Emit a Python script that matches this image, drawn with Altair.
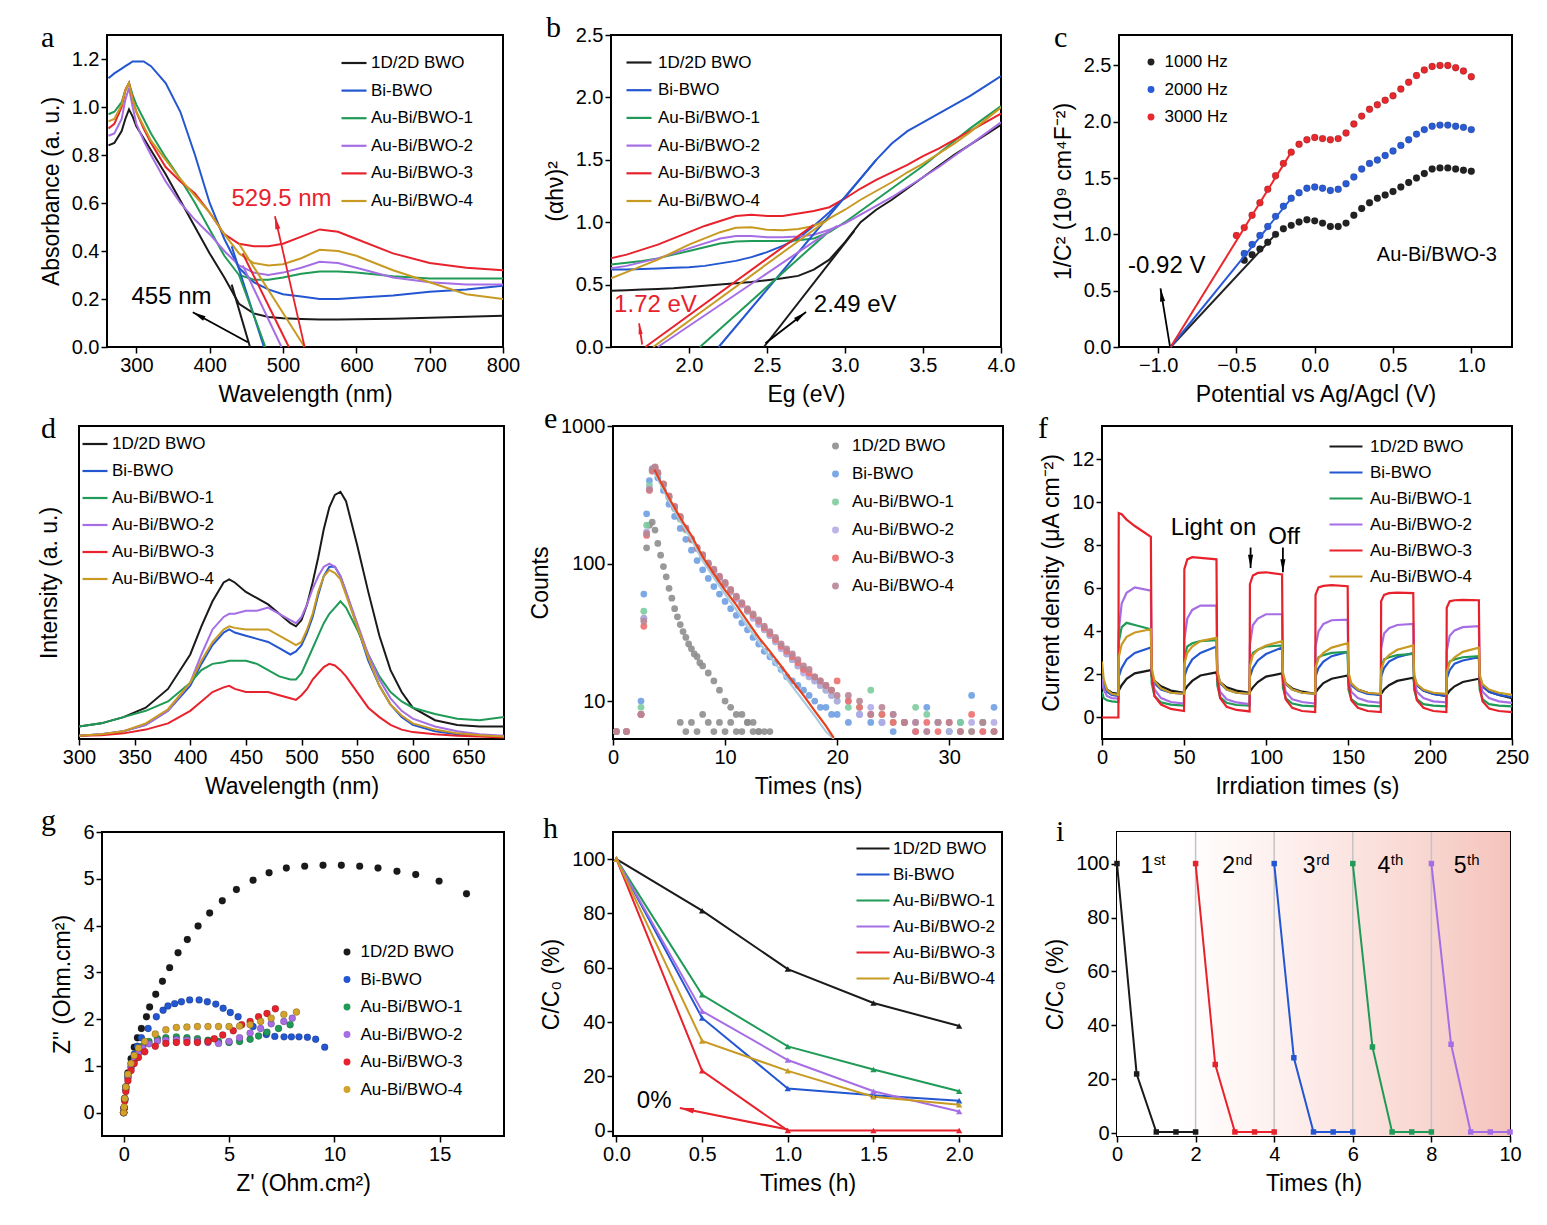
import math
import altair as alt
import pandas as pd

FONT = "Liberation Sans"
SERIF = "Liberation Serif"

NAMES = ["1D/2D BWO", "Bi-BWO", "Au-Bi/BWO-1", "Au-Bi/BWO-2", "Au-Bi/BWO-3", "Au-Bi/BWO-4"]
COLORS = ["#1a1a1a", "#2356d1", "#1f9a57", "#a66ee4", "#e8222c", "#c89a22"]
E_COLORS = ["#8e8e8e", "#6f9fe3", "#7dcc9e", "#b3ace6", "#ee6f6f", "#b88593"]
G_COLORS = ["#1a1a1a", "#2356d1", "#1f9a57", "#a66ee4", "#e8222c", "#d2a22a"]
HZ_NAMES = ["1000 Hz", "2000 Hz", "3000 Hz"]
HZ_COLORS = ["#222222", "#2a5bd7", "#e8282c"]
CYCLES = ["1", "2", "3", "4", "5"]
CYCLE_COLORS = ["#1a1a1a", "#e8222c", "#2356d1", "#1f9a57", "#a66ee4"]

# ---------------- panel a : UV-vis ----------------
A_WL = [262, 270, 280, 285, 290, 295, 300, 310, 320, 340, 360, 380, 400, 420, 440, 460, 480, 500, 525, 550, 575, 600, 650, 700, 750, 800]
A_BWO = [0.84, 0.85, 0.90, 0.95, 0.99, 0.96, 0.92, 0.87, 0.82, 0.72, 0.61, 0.50, 0.39, 0.29, 0.18, 0.14, 0.125, 0.12, 0.117, 0.115, 0.115, 0.116, 0.118, 0.122, 0.126, 0.13]
A_BI = [1.12, 1.14, 1.16, 1.17, 1.18, 1.19, 1.19, 1.19, 1.17, 1.10, 0.98, 0.80, 0.60, 0.45, 0.33, 0.27, 0.24, 0.22, 0.21, 0.20, 0.20, 0.205, 0.215, 0.23, 0.24, 0.255]
A_AU1 = [0.97, 0.98, 1.02, 1.07, 1.10, 1.05, 1.01, 0.95, 0.89, 0.79, 0.70, 0.60, 0.49, 0.38, 0.30, 0.28, 0.28, 0.29, 0.305, 0.315, 0.315, 0.31, 0.295, 0.285, 0.285, 0.285]
A_AU2 = [0.88, 0.89, 0.95, 1.03, 1.08, 1.00, 0.93, 0.86, 0.80, 0.69, 0.60, 0.53, 0.47, 0.40, 0.34, 0.31, 0.30, 0.31, 0.33, 0.355, 0.35, 0.33, 0.29, 0.27, 0.26, 0.26]
A_AU3 = [0.91, 0.93, 1.00, 1.07, 1.10, 1.03, 0.98, 0.91, 0.85, 0.75, 0.69, 0.64, 0.56, 0.47, 0.43, 0.42, 0.42, 0.43, 0.46, 0.49, 0.48, 0.45, 0.39, 0.35, 0.33, 0.32]
A_AU4 = [0.94, 0.95, 1.01, 1.07, 1.10, 1.03, 0.98, 0.92, 0.86, 0.78, 0.70, 0.63, 0.56, 0.47, 0.39, 0.35, 0.34, 0.345, 0.37, 0.405, 0.40, 0.38, 0.32, 0.27, 0.22, 0.20]
A_TAN_X0 = [455, 474, 476, 498, 508, 529.5]
A_TAN_X1 = [430, 430, 440, 445, 445, 440]
A_TAN_Y1 = [0.26, 0.42, 0.30, 0.34, 0.39, 0.43]

# ---------------- panel b : Tauc ----------------
B_EG = [1.5, 1.6, 1.7, 1.8, 1.9, 2.0, 2.1, 2.2, 2.3, 2.4, 2.5, 2.6, 2.7, 2.8, 2.9, 3.0, 3.1, 3.2, 3.3, 3.4, 3.5, 3.6, 3.7, 3.8, 3.9, 4.0]
B_BWO = [0.45, 0.455, 0.46, 0.465, 0.47, 0.48, 0.49, 0.50, 0.51, 0.52, 0.535, 0.55, 0.57, 0.62, 0.70, 0.84, 1.0, 1.10, 1.18, 1.27, 1.36, 1.45, 1.54, 1.62, 1.70, 1.78]
B_BI = [0.62, 0.62, 0.625, 0.63, 0.635, 0.64, 0.65, 0.67, 0.69, 0.72, 0.76, 0.81, 0.87, 0.97, 1.08, 1.20, 1.35, 1.50, 1.63, 1.73, 1.80, 1.87, 1.94, 2.01, 2.09, 2.17]
B_AU1 = [0.66, 0.675, 0.69, 0.71, 0.74, 0.77, 0.80, 0.83, 0.845, 0.85, 0.85, 0.85, 0.855, 0.87, 0.92, 1.0, 1.09, 1.18, 1.27, 1.36, 1.45, 1.55, 1.65, 1.75, 1.84, 1.93]
B_AU2 = [0.63, 0.65, 0.68, 0.71, 0.75, 0.79, 0.83, 0.87, 0.89, 0.89, 0.88, 0.88, 0.885, 0.90, 0.94, 0.99, 1.06, 1.13, 1.20, 1.28, 1.36, 1.44, 1.53, 1.62, 1.71, 1.80]
B_AU3 = [0.71, 0.74, 0.78, 0.82, 0.87, 0.92, 0.97, 1.01, 1.05, 1.06, 1.05, 1.05, 1.07, 1.09, 1.12, 1.19, 1.27, 1.34, 1.40, 1.46, 1.53, 1.59, 1.66, 1.73, 1.80, 1.87]
B_AU4 = [0.55, 0.60, 0.65, 0.70, 0.76, 0.82, 0.87, 0.92, 0.955, 0.96, 0.94, 0.935, 0.945, 0.97, 1.03, 1.10, 1.18, 1.25, 1.32, 1.40, 1.47, 1.55, 1.63, 1.72, 1.82, 1.92]
B_TAN_X0 = [2.48, 2.19, 2.07, 1.80, 1.72, 1.77]
B_TAN_X1 = [3.06, 3.20, 2.90, 2.95, 2.80, 2.90]
B_TAN_Y1 = [0.93, 1.50, 0.93, 0.97, 0.98, 1.03]

# ---------------- panel c : Mott-Schottky ----------------
C_V = [-0.5, -0.45, -0.4, -0.35, -0.3, -0.25, -0.2, -0.15, -0.1, -0.05, 0.0, 0.05, 0.1, 0.15, 0.2, 0.25,
       0.3, 0.35, 0.4, 0.45, 0.5, 0.55, 0.6, 0.65, 0.7, 0.75, 0.8, 0.85, 0.9, 0.95, 1.0]
C_3000 = [0.99, 1.06, 1.17, 1.28, 1.40, 1.52, 1.63, 1.73, 1.80, 1.84, 1.86, 1.85, 1.84, 1.85, 1.90, 1.98,
          2.05, 2.11, 2.15, 2.19, 2.23, 2.29, 2.35, 2.41, 2.46, 2.49, 2.50, 2.50, 2.48, 2.45, 2.40]
C_2000 = [0.83, 0.91, 0.99, 1.07, 1.16, 1.25, 1.32, 1.37, 1.41, 1.42, 1.41, 1.39, 1.40, 1.45, 1.51,
          1.58, 1.63, 1.66, 1.70, 1.74, 1.79, 1.84, 1.89, 1.93, 1.96, 1.97, 1.97, 1.96, 1.95, 1.93]
C_1000 = [0.77, 0.82, 0.87, 0.93, 1.00, 1.05, 1.08, 1.11, 1.13, 1.12, 1.10, 1.07, 1.07, 1.10, 1.17,
          1.23, 1.28, 1.32, 1.35, 1.38, 1.42, 1.46, 1.50, 1.54, 1.58, 1.59, 1.59, 1.58, 1.57, 1.56]
C_FIT_X0 = [-0.92, -0.92, -0.92]
C_FIT_X1 = [-0.25, -0.15, -0.15]
C_FIT_Y1 = [1.00, 1.32, 1.73]

# ---------------- panel d : PL ----------------
D_WL = [300, 320, 340, 360, 380, 400, 410, 420, 430, 435, 440, 450, 460, 470, 480, 490, 495, 500, 505, 510, 515, 520,
        525, 530, 535, 540, 550, 560, 570, 580, 590, 600, 620, 640, 660, 682]
D_BWO = [0.04, 0.05, 0.07, 0.10, 0.16, 0.27, 0.36, 0.44, 0.50, 0.51, 0.50, 0.47, 0.45, 0.43, 0.40, 0.37, 0.36, 0.38, 0.43, 0.50, 0.58, 0.67,
         0.74, 0.78, 0.79, 0.76, 0.62, 0.47, 0.33, 0.22, 0.15, 0.10, 0.06, 0.045, 0.04, 0.04]
D_BI = [0.01, 0.015, 0.025, 0.045, 0.09, 0.17, 0.24, 0.30, 0.34, 0.35, 0.34, 0.33, 0.32, 0.31, 0.29, 0.27, 0.28, 0.30, 0.34, 0.39, 0.46, 0.52,
        0.55, 0.55, 0.52, 0.47, 0.36, 0.25, 0.17, 0.11, 0.07, 0.045, 0.025, 0.015, 0.01, 0.008]
D_AU1 = [0.04, 0.05, 0.07, 0.09, 0.12, 0.18, 0.22, 0.24, 0.245, 0.25, 0.25, 0.25, 0.24, 0.22, 0.20, 0.19, 0.19, 0.21, 0.25, 0.29, 0.33, 0.37,
         0.40, 0.42, 0.44, 0.42, 0.35, 0.27, 0.20, 0.15, 0.12, 0.10, 0.08, 0.065, 0.06, 0.07]
D_AU2 = [0.01, 0.015, 0.025, 0.045, 0.09, 0.18, 0.27, 0.35, 0.39, 0.40, 0.40, 0.41, 0.41, 0.42, 0.40, 0.38, 0.37, 0.39, 0.43, 0.48, 0.52, 0.55,
         0.56, 0.55, 0.52, 0.47, 0.37, 0.27, 0.19, 0.13, 0.09, 0.065, 0.04, 0.025, 0.015, 0.01]
D_AU3 = [0.01, 0.012, 0.018, 0.03, 0.05, 0.09, 0.12, 0.15, 0.165, 0.17, 0.16, 0.15, 0.15, 0.15, 0.14, 0.13, 0.125, 0.14, 0.16, 0.19, 0.21, 0.23,
         0.24, 0.235, 0.22, 0.20, 0.15, 0.10, 0.07, 0.045, 0.03, 0.022, 0.015, 0.01, 0.008, 0.005]
D_AU4 = [0.01, 0.015, 0.025, 0.05, 0.095, 0.18, 0.25, 0.31, 0.35, 0.36, 0.355, 0.35, 0.35, 0.35, 0.33, 0.31, 0.30, 0.31, 0.35, 0.40, 0.47, 0.52,
         0.54, 0.53, 0.51, 0.46, 0.36, 0.26, 0.17, 0.11, 0.075, 0.05, 0.03, 0.018, 0.012, 0.008]

# ---------------- panel e : TRPL ----------------
E_T0 = [2.5, 2.75, 3.0, 3.25, 3.5, 3.75, 4.0, 4.25, 4.5, 4.75, 5.0, 5.25, 5.5, 5.75, 6.0, 6.25, 6.5, 6.75, 7.0, 7.25, 7.5, 7.75,
        8.0, 8.5, 9.0, 9.5, 10.0, 10.5, 11.0, 11.5, 12.0, 12.5, 13.0, 13.5, 14.0,
        6.0, 6.5, 7.0, 7.5, 8.0, 8.5, 9.0, 9.5, 10.0, 10.5, 11.0, 11.5, 12.0, 12.5, 13.0]
E_BWO = [8, 40, 130, 190, 200, 175, 140, 115, 95, 80, 66, 56, 47, 41, 36, 32, 29, 26, 24, 22, 21, 19,
         18, 16, 14, 12, 10, 9, 8, 8, 7, 7, 6, 6, 6,
         7, 6, 7, 6, 8, 7, 6, 7, 6, 7, 6, 6, 7, 6, 6]
E_T = [0.3, 1.2, 2.5, 2.75, 3.0, 3.25, 3.5, 3.75, 4.0, 4.5, 5.0, 5.5, 6.0, 6.5, 7.0, 7.5, 8.0, 8.5, 9.0, 9.5, 10.0,
       10.5, 11.0, 11.5, 12.0, 12.5, 13.0, 13.5, 14.0, 14.5, 15.0, 15.5, 16.0, 16.5, 17.0, 17.5, 18.0, 18.5, 19.0, 19.5,
       20.0, 21.0, 22.0, 23.0, 24.0, 25.0, 26.0, 27.0, 28.0, 29.0, 30.0, 31.0, 32.0, 33.0, 34.0]
E_BI = [6, 6, 10, 60, 230, 400, 490, 480, 420, 340, 270, 220, 180, 150, 125, 105, 90, 78, 68, 60, 53,
        47, 42, 37, 33, 29, 26, 23, 21, 19, 17, 15, 14, 13, 12, 11, 10, 9, 9, 8,
        8, 7, 8, 7, 7, 6, 7, 6, 9, 7, 6, 7, 11, 7, 9]
E_AU1 = [6, 6, 9, 45, 190, 370, 480, 495, 450, 370, 300, 250, 210, 175, 148, 128, 112, 98, 88, 78, 70,
         62, 56, 50, 45, 41, 37, 33, 30, 27, 25, 22, 20, 18, 17, 15, 14, 13, 12, 11,
         10, 9, 9, 12, 8, 7, 7, 9, 8, 7, 6, 7, 6, 7, 6]
E_AU2 = [6, 6, 8, 40, 170, 350, 470, 490, 450, 375, 305, 255, 215, 178, 150, 128, 113, 99, 87, 78, 70,
         62, 55, 50, 45, 40, 36, 33, 30, 27, 24, 22, 20, 18, 16, 15, 14, 13, 12, 11,
         10, 10, 8, 9, 7, 8, 7, 7, 6, 7, 6, 6, 7, 6, 7]
E_AU3 = [6, 6, 8, 35, 160, 340, 470, 500, 460, 380, 310, 260, 220, 180, 150, 130, 115, 100, 90, 80, 72,
         64, 57, 51, 46, 42, 38, 34, 31, 28, 25, 23, 21, 19, 17, 16, 15, 14, 13, 12,
         14, 10, 9, 8, 8, 7, 7, 6, 7, 6, 7, 6, 8, 6, 6]
E_AU4 = [6, 6, 8, 38, 165, 345, 480, 505, 455, 378, 308, 258, 218, 182, 152, 131, 116, 101, 91, 81, 73,
         65, 58, 52, 47, 43, 39, 35, 32, 29, 26, 24, 22, 20, 18, 17, 15, 14, 13, 12,
         11, 11, 10, 8, 9, 8, 7, 7, 6, 7, 7, 6, 6, 7, 6]
E_FIT_T = [3.7, 4.0, 5.0, 6.0, 7.0, 8.0, 9.0, 10.0, 11.0, 12.0, 13.0, 14.0, 15.0, 16.0, 17.0, 18.0, 19.0, 19.7]
E_FIT_RED = [480, 430, 300, 215, 160, 112, 84, 64, 50, 38, 29, 23, 18, 14, 11, 8.5, 6.6, 5.4]
E_FIT_BLUE = [460, 410, 285, 205, 150, 105, 79, 60, 46, 35, 27, 21, 16.5, 12.8, 10, 7.8, 6.0, 5.3]

# ---------------- panel f : photocurrent ----------------
F_T = [0, 1, 3, 6,
       10, 10.2, 12, 15, 20, 29.8, 30.3, 32, 36, 42,
       50, 50.2, 52, 55, 60, 69.8, 70.3, 72, 76, 82,
       90, 90.2, 92, 95, 100, 109.8, 110.3, 112, 116, 122,
       130, 130.2, 132, 135, 140, 149.8, 150.3, 152, 156, 162,
       170, 170.2, 172, 175, 180, 189.8, 190.3, 192, 196, 202,
       210, 210.2, 212, 215, 220, 229.8, 230.3, 232, 236, 242, 250]
F_BWO = [2.0, 1.6, 1.3, 1.15,
         1.1, 1.25, 1.5, 1.8, 2.05, 2.2, 1.9, 1.7, 1.45, 1.25,
         1.15, 1.25, 1.45, 1.7, 1.95, 2.1, 1.85, 1.65, 1.4, 1.25,
         1.15, 1.2, 1.4, 1.65, 1.9, 2.05, 1.8, 1.6, 1.35, 1.2,
         1.1, 1.15, 1.35, 1.6, 1.8, 1.95, 1.7, 1.55, 1.3, 1.15,
         1.05, 1.1, 1.3, 1.5, 1.7, 1.85, 1.65, 1.5, 1.25, 1.1,
         1.0, 1.05, 1.25, 1.45, 1.65, 1.8, 1.6, 1.45, 1.2, 1.05, 0.9]
F_BI = [2.0, 1.5, 1.2, 1.05,
        1.0, 1.9, 2.3, 2.7, 3.0, 3.25, 2.1, 1.6, 1.3, 1.15,
        1.1, 1.9, 2.3, 2.7, 3.0, 3.3, 2.1, 1.6, 1.3, 1.15,
        1.1, 1.9, 2.3, 2.65, 2.95, 3.25, 2.0, 1.55, 1.3, 1.15,
        1.1, 1.9, 2.3, 2.6, 2.85, 3.05, 1.95, 1.5, 1.25, 1.1,
        1.05, 1.9, 2.3, 2.6, 2.8, 3.0, 1.9, 1.5, 1.25, 1.1,
        1.0, 1.8, 2.2, 2.5, 2.65, 2.8, 1.9, 1.45, 1.2, 1.05, 0.95]
F_AU1 = [1.2, 0.9, 0.8, 0.75,
         0.72, 3.5, 4.2, 4.4, 4.3, 4.1, 1.6, 1.0, 0.7, 0.6,
         0.55, 2.8, 3.3, 3.45, 3.55, 3.6, 1.5, 0.95, 0.68, 0.58,
         0.55, 2.6, 3.0, 3.15, 3.3, 3.35, 1.4, 0.9, 0.65, 0.55,
         0.52, 2.4, 2.8, 2.9, 3.0, 3.05, 1.3, 0.85, 0.62, 0.55,
         0.52, 2.3, 2.7, 2.8, 2.9, 2.95, 1.3, 0.85, 0.62, 0.55,
         0.52, 2.2, 2.6, 2.7, 2.8, 2.85, 1.3, 0.85, 0.62, 0.55, 0.52]
F_AU2 = [1.8, 1.3, 1.0, 0.9,
         0.88, 4.0, 5.3, 5.8, 6.05, 5.9, 2.0, 1.3, 0.9, 0.72,
         0.65, 3.6, 4.6, 5.0, 5.2, 5.2, 1.9, 1.2, 0.85, 0.7,
         0.62, 3.4, 4.3, 4.6, 4.8, 4.8, 1.8, 1.2, 0.85, 0.72,
         0.65, 3.3, 4.0, 4.35, 4.52, 4.55, 1.8, 1.2, 0.9, 0.75,
         0.68, 3.2, 3.9, 4.15, 4.3, 4.35, 1.8, 1.2, 0.9, 0.75,
         0.7, 3.1, 3.8, 4.05, 4.2, 4.25, 1.8, 1.2, 0.9, 0.75, 0.68]
F_AU3 = [0, 0, 0, 0,
         0, 9.5, 9.45, 9.2, 8.9, 8.4, 2.0, 1.0, 0.6, 0.4,
         0.3, 6.9, 7.35, 7.45, 7.42, 7.35, 1.8, 0.9, 0.5, 0.35,
         0.28, 6.2, 6.6, 6.72, 6.75, 6.65, 1.7, 0.85, 0.45, 0.3,
         0.25, 5.7, 6.05, 6.12, 6.15, 6.1, 1.6, 0.8, 0.45, 0.3,
         0.25, 5.4, 5.7, 5.78, 5.8, 5.78, 1.5, 0.8, 0.45, 0.3,
         0.25, 5.1, 5.4, 5.45, 5.47, 5.45, 1.5, 0.75, 0.42, 0.3, 0.25]
F_AU4 = [2.6, 1.8, 1.3, 1.1,
         1.05, 2.8, 3.4, 3.75, 3.95, 4.1, 2.3, 1.7, 1.35, 1.15,
         1.1, 2.5, 3.0, 3.3, 3.55, 3.7, 2.2, 1.65, 1.3, 1.15,
         1.1, 2.4, 2.9, 3.15, 3.35, 3.55, 2.1, 1.6, 1.3, 1.15,
         1.1, 2.3, 2.75, 3.0, 3.25, 3.45, 2.1, 1.6, 1.3, 1.15,
         1.1, 2.2, 2.65, 2.9, 3.15, 3.35, 2.0, 1.55, 1.3, 1.15,
         1.1, 2.1, 2.55, 2.8, 3.05, 3.25, 2.0, 1.55, 1.3, 1.15, 1.05]

# ---------------- panel g : Nyquist ----------------
G_BWO_X = [0.0, 0.02, 0.05, 0.1, 0.2, 0.35, 0.5, 0.65, 0.84, 1.08, 1.23, 1.52, 1.84, 2.18, 2.58, 3.02, 3.53, 4.08,
           4.68, 5.35, 6.14, 6.9, 7.72, 8.59, 9.46, 10.33, 11.2, 12.07, 12.97, 13.86, 14.97, 16.27]
G_BWO_Y = [0.0, 0.1, 0.3, 0.55, 0.85, 1.15, 1.4, 1.6, 1.8, 2.05, 2.26, 2.53, 2.81, 3.10, 3.42, 3.70, 3.99, 4.27,
           4.53, 4.77, 4.97, 5.13, 5.23, 5.27, 5.29, 5.29, 5.27, 5.23, 5.16, 5.09, 4.95, 4.68]
G_BI_X = [0.0, 0.02, 0.05, 0.1, 0.2, 0.35, 0.5, 0.65, 0.84, 1.16, 1.55, 1.87, 2.1, 2.42, 2.74, 3.13, 3.58, 3.97,
          4.37, 4.72, 5.06, 5.43, 6.14, 6.77, 7.17, 7.61, 7.96, 8.32, 8.72, 9.11, 9.54]
G_BI_Y = [0.0, 0.1, 0.3, 0.55, 0.8, 1.05, 1.25, 1.42, 1.6, 1.8, 2.05, 2.19, 2.28, 2.33, 2.37, 2.41, 2.41, 2.37,
          2.32, 2.23, 2.14, 2.05, 1.84, 1.67, 1.63, 1.62, 1.62, 1.62, 1.61, 1.57, 1.40]
G_AU1_X = [0.0, 0.02, 0.05, 0.1, 0.2, 0.35, 0.5, 0.7, 0.9, 1.2, 1.6, 2.0, 2.5, 3.0, 3.5, 4.0, 4.5, 5.0, 5.5, 6.0, 6.4, 6.8, 7.35, 7.9]
G_AU1_Y = [0.0, 0.1, 0.28, 0.5, 0.75, 0.98, 1.15, 1.3, 1.42, 1.52, 1.58, 1.6, 1.62, 1.6, 1.58, 1.55, 1.52, 1.5, 1.52, 1.57, 1.64, 1.72, 1.8, 1.88]
G_AU2_X = [0.0, 0.02, 0.05, 0.1, 0.2, 0.35, 0.5, 0.7, 0.9, 1.2, 1.6, 2.0, 2.5, 3.0, 3.5, 4.0, 4.5, 5.0, 5.5, 6.0, 6.5, 7.0, 7.6, 8.0]
G_AU2_Y = [0.0, 0.1, 0.28, 0.5, 0.75, 0.97, 1.12, 1.27, 1.38, 1.47, 1.53, 1.55, 1.56, 1.55, 1.53, 1.5, 1.48, 1.52, 1.6, 1.7, 1.8, 1.9, 1.95, 2.02]
G_AU3_X = [0.0, 0.02, 0.05, 0.1, 0.2, 0.35, 0.5, 0.7, 1.0, 1.5, 2.0, 2.5, 3.0, 3.5, 4.0, 4.3, 4.7, 5.2, 5.6, 6.0, 6.4, 6.8, 7.2]
G_AU3_Y = [0.0, 0.1, 0.25, 0.45, 0.68, 0.9, 1.05, 1.18, 1.3, 1.42, 1.48, 1.5, 1.5, 1.5, 1.52, 1.58, 1.66, 1.75, 1.88, 1.95, 2.05, 2.12, 2.22]
G_AU4_X = [0.0, 0.02, 0.05, 0.1, 0.2, 0.35, 0.5, 0.7, 1.0, 1.5, 2.0, 2.5, 3.0, 3.5, 4.0, 4.5, 5.0, 5.5, 6.0, 6.5, 7.0, 7.6, 8.2]
G_AU4_Y = [0.0, 0.12, 0.3, 0.55, 0.82, 1.05, 1.22, 1.38, 1.52, 1.68, 1.77, 1.82, 1.83, 1.84, 1.84, 1.84, 1.84, 1.85, 1.88, 1.95, 2.02, 2.1, 2.15]

# ---------------- panel h : degradation ----------------
H_T = [0.0, 0.5, 1.0, 1.5, 2.0]
H_BWO = [100, 81, 59.5, 47, 38.5]
H_BI = [100, 41.5, 15.5, 13, 11]
H_AU1 = [100, 50, 31, 22.5, 14.5]
H_AU2 = [100, 44, 26, 14.5, 7]
H_AU3 = [100, 22, 0, 0, 0]
H_AU4 = [100, 33, 22, 12.5, 9.5]

# ---------------- panel i : cycling ----------------
I_T1 = [0, 0.5, 1, 1.5, 2]
I_T2 = [2, 2.5, 3, 3.5, 4]
I_T3 = [4, 4.5, 5, 5.5, 6]
I_T4 = [6, 6.5, 7, 7.5, 8]
I_T5 = [8, 8.5, 9, 9.5, 10]
I_C1 = [100, 22, 0.5, 0.5, 0.5]
I_C2 = [100, 25.5, 0.5, 0.5, 0.5]
I_C3 = [100, 28, 0.5, 0.5, 0.5]
I_C4 = [100, 32, 0.5, 0.5, 0.5]
I_C5 = [100, 33, 0.5, 0.5, 0.5]
I_SEP = [2, 4, 6, 8]
I_LBL = ["1", "2", "3", "4", "5"]
I_SUP = ["st", "nd", "rd", "th", "th"]
I_LBL_X = [0.76, 2.84, 4.89, 6.79, 8.73]


# ======================= helpers =======================
def sc(dom, typ=None):
    if typ:
        return alt.Scale(type=typ, domain=dom, nice=False)
    return alt.Scale(domain=dom, nice=False, zero=False)


def long_common(xs, ys_list, names):
    rows = []
    for n, ys in zip(names, ys_list):
        assert len(ys) == len(xs), (n, len(ys), len(xs))
        for i, (x, y) in enumerate(zip(xs, ys)):
            rows.append({"s": n, "x": x, "y": y, "o": i})
    return pd.DataFrame(rows)


def long_pairs(xs_list, ys_list, names):
    rows = []
    for n, xs, ys in zip(names, xs_list, ys_list):
        assert len(xs) == len(ys), (n, len(xs), len(ys))
        for i, (x, y) in enumerate(zip(xs, ys)):
            rows.append({"s": n, "x": x, "y": y, "o": i})
    return pd.DataFrame(rows)


def make_axis(title, values=None, fmt=None, **kw):
    d = dict(title=title)
    if values is not None:
        d["values"] = values
    if fmt:
        d["format"] = fmt
    d.update(kw)
    return alt.Axis(**d)


class P:
    def __init__(self, xdom, ydom, w, h, xaxis, yaxis, ylog=False):
        self.xdom, self.ydom, self.w, self.h, self.ylog = xdom, ydom, w, h, ylog
        self.xs = sc(xdom)
        self.ys = sc(ydom, "log") if ylog else sc(ydom)
        self.xa, self.ya = xaxis, yaxis

    def X(self, f):
        return alt.X(f, scale=self.xs, axis=self.xa)

    def Y(self, f):
        return alt.Y(f, scale=self.ys, axis=self.ya)

    def fy(self, v):
        return math.log10(v) if self.ylog else v


HEAD = "M0,0L0.45,2.3L-0.45,2.3Z"


def arrow(p, x0, y0, x1, y1, color, sw=1.8, size=130):
    dxp = (x1 - x0) / (p.xdom[1] - p.xdom[0]) * p.w
    dyp = -(p.fy(y1) - p.fy(y0)) / (p.fy(p.ydom[1]) - p.fy(p.ydom[0])) * p.h
    ang = math.degrees(math.atan2(dxp, -dyp)) % 360
    df = pd.DataFrame({"x": [x0], "y": [y0], "x1": [x1], "y1": [y1]})
    rule = alt.Chart(df).mark_rule(color=color, strokeWidth=sw).encode(
        x=p.X("x:Q"), y=p.Y("y:Q"), x2="x1:Q", y2="y1:Q")
    head = alt.Chart(df).mark_point(shape=HEAD, filled=True, color=color, size=size, angle=ang, opacity=1).encode(
        x=p.X("x1:Q"), y=p.Y("y1:Q"))
    return [rule, head]


def label(p, x, y, text, color="black", size=24, align="center", baseline="middle"):
    df = pd.DataFrame({"x": [x], "y": [y], "t": [text]})
    return alt.Chart(df).mark_text(color=color, fontSize=size, align=align, baseline=baseline, font=FONT).encode(
        x=p.X("x:Q"), y=p.Y("y:Q"), text="t:N")


def color_enc(names, colors, legend):
    return alt.Color("s:N", scale=alt.Scale(domain=names, range=colors), legend=legend, sort=names)


def line_legend(lx, ly, size, rowpad, offset=5):
    return alt.Legend(title=None, orient="none", legendX=lx, legendY=ly, symbolType="stroke",
                      symbolSize=size, symbolStrokeWidth=2.2, rowPadding=rowpad, padding=0,
                      labelFontSize=17, labelOffset=offset, labelFont=FONT)


def dot_legend(lx, ly, size, rowpad, offset=8):
    return alt.Legend(title=None, orient="none", legendX=lx, legendY=ly, symbolType="circle",
                      symbolSize=size, rowPadding=rowpad, padding=0, symbolStrokeWidth=0,
                      labelFontSize=17, labelOffset=offset, labelFont=FONT)


def finish(layers, p, letter, dx, dy=12):
    return alt.layer(*layers).properties(
        width=p.w, height=p.h,
        title=alt.TitleParams(text=letter, anchor="start", frame="group", dx=dx, dy=dy + 30, offset=0,
                              font=SERIF, fontSize=30, fontWeight="normal", baseline="alphabetic", color="black"),
        view=alt.ViewBackground(stroke="black", strokeWidth=2))


# ======================= panel a =======================
pa = P([260, 800], [0, 1.3], 396, 312,
       make_axis("Wavelength (nm)", [300, 400, 500, 600, 700, 800], "d"),
       make_axis("Absorbance (a. u.)", [0, 0.2, 0.4, 0.6, 0.8, 1.0, 1.2], ".1f"))
dfa = long_common(A_WL, [A_BWO, A_BI, A_AU1, A_AU2, A_AU3, A_AU4], NAMES)
leg_a = line_legend(233, 14, 625, 5.6, 3)
a_lines = alt.Chart(dfa).mark_line(strokeWidth=2, clip=True).encode(
    x=pa.X("x:Q"), y=pa.Y("y:Q"), color=color_enc(NAMES, COLORS, leg_a), order="o:Q")
dfa_t = pd.DataFrame({"s": NAMES, "x": A_TAN_X0, "y": [0] * 6, "x1": A_TAN_X1, "y1": A_TAN_Y1})
a_tan = alt.Chart(dfa_t).mark_rule(strokeWidth=2).encode(
    x=pa.X("x:Q"), y=pa.Y("y:Q"), x2="x1:Q", y2="y1:Q", color=color_enc(NAMES, COLORS, leg_a))
a_layers = [a_lines, a_tan] + arrow(pa, 452, 0.02, 377, 0.145, "black") + arrow(pa, 529.5, 0.0, 489, 0.545, "#e8222c") + [
    label(pa, 348, 0.21, "455 nm"), label(pa, 498, 0.615, "529.5 nm", color="#e8222c")]
chart_a = finish(a_layers, pa, "a", -66)

# ======================= panel b =======================
pb = P([1.5, 4.0], [0, 2.5], 390, 312,
       make_axis("Eg (eV)", [2.0, 2.5, 3.0, 3.5, 4.0], ".1f"),
       make_axis("(αhν)²", [0, 0.5, 1.0, 1.5, 2.0, 2.5], ".1f"))
dfb = long_common(B_EG, [B_BWO, B_BI, B_AU1, B_AU2, B_AU3, B_AU4], NAMES)
leg_b = line_legend(14, 13.5, 625, 5.7, 5)
b_lines = alt.Chart(dfb).mark_line(strokeWidth=2, clip=True).encode(
    x=pb.X("x:Q"), y=pb.Y("y:Q"), color=color_enc(NAMES, COLORS, leg_b), order="o:Q")
dfb_t = pd.DataFrame({"s": NAMES, "x": B_TAN_X0, "y": [0] * 6, "x1": B_TAN_X1, "y1": B_TAN_Y1})
b_tan = alt.Chart(dfb_t).mark_rule(strokeWidth=2).encode(
    x=pb.X("x:Q"), y=pb.Y("y:Q"), x2="x1:Q", y2="y1:Q", color=color_enc(NAMES, COLORS, leg_b))
b_layers = [b_lines, b_tan] + arrow(pb, 1.70, 0.02, 1.68, 0.19, "#e8222c", size=90) + arrow(pb, 2.49, 0.03, 2.75, 0.28, "black") + [
    label(pb, 1.52, 0.335, "1.72 eV", color="#e8222c", align="left"), label(pb, 2.8, 0.335, "2.49 eV", align="left")]
chart_b = finish(b_layers, pb, "b", -65)

# ======================= panel c =======================
pc = P([-1.25, 1.26], [0, 2.77], 393, 312,
       make_axis("Potential vs Ag/Agcl (V)", [-1.0, -0.5, 0.0, 0.5, 1.0], ".1f"),
       make_axis("1/C² (10⁹ cm⁴F⁻²)", [0, 0.5, 1.0, 1.5, 2.0, 2.5], ".1f"))
dfc = long_pairs([C_V[1:], C_V[1:], C_V], [C_1000, C_2000, C_3000], HZ_NAMES)
leg_c = dot_legend(23.5, 18.5, 48, 9.5, 5)
c_pts = alt.Chart(dfc).mark_circle(size=48, opacity=1, stroke="#00000055", strokeWidth=0.6).encode(
    x=pc.X("x:Q"), y=pc.Y("y:Q"), color=color_enc(HZ_NAMES, HZ_COLORS, leg_c))
dfc_f = pd.DataFrame({"s": HZ_NAMES, "x": C_FIT_X0, "y": [0] * 3, "x1": C_FIT_X1, "y1": C_FIT_Y1})
c_fit = alt.Chart(dfc_f).mark_rule(strokeWidth=2).encode(
    x=pc.X("x:Q"), y=pc.Y("y:Q"), x2="x1:Q", y2="y1:Q", color=color_enc(HZ_NAMES, HZ_COLORS, leg_c))
c_layers = [c_pts, c_fit] + arrow(pc, -0.925, 0.01, -0.985, 0.52, "black") + [
    label(pc, -0.945, 0.72, "-0.92 V"), label(pc, 0.78, 0.82, "Au-Bi/BWO-3", size=20)]
chart_c = finish(c_layers, pc, "c", -65)

# ======================= panel d =======================
pd_ = P([300, 682], [0, 1.0], 425, 313,
        make_axis("Wavelength (nm)", [300, 350, 400, 450, 500, 550, 600, 650], "d"),
        make_axis("Intensity (a. u.)", labels=False, ticks=False, titlePadding=18))
dfd = long_common(D_WL, [D_BWO, D_BI, D_AU1, D_AU2, D_AU3, D_AU4], NAMES)
d_lines = alt.Chart(dfd).mark_line(strokeWidth=2, clip=True).encode(
    x=pd_.X("x:Q"), y=pd_.Y("y:Q"), color=color_enc(NAMES, COLORS, line_legend(2, 4, 625, 5, 3)), order="o:Q")
chart_d = finish([d_lines], pd_, "d", -38)

# ======================= panel e =======================
pe = P([0, 34.8], [5.3, 1000], 390, 313,
       make_axis("Times (ns)", [0, 10, 20, 30], "d"),
       make_axis("Counts", [10, 100, 1000], "d"), ylog=True)
rows = []
for i, (t, v) in enumerate(zip(E_T0, E_BWO)):
    rows.append({"s": NAMES[0], "x": t, "y": v, "o": i})
for n, vals in zip(NAMES[1:], [E_BI, E_AU1, E_AU2, E_AU3, E_AU4]):
    assert len(vals) == len(E_T), (n, len(vals))
    for i, (t, v) in enumerate(zip(E_T, vals)):
        rows.append({"s": n, "x": t, "y": v, "o": i})
dfe = pd.DataFrame(rows)
e_pts = alt.Chart(dfe).mark_circle(size=46, opacity=0.9, clip=True).encode(
    x=pe.X("x:Q"), y=pe.Y("y:Q"), color=color_enc(NAMES, E_COLORS, dot_legend(214, 11.5, 48, 10, 8)))
dfe_f = long_common(E_FIT_T, [E_FIT_BLUE, E_FIT_RED], ["fb", "fr"])
e_fit = alt.Chart(dfe_f).mark_line(strokeWidth=2.2, clip=True).encode(
    x=pe.X("x:Q"), y=pe.Y("y:Q"), detail="s:N", order="o:Q",
    stroke=alt.Stroke("s:N", scale=alt.Scale(domain=["fb", "fr"], range=["#a9cbe0", "#e8401a"]), legend=None))
chart_e = finish([e_pts, e_fit], pe, "e", -69)

# ======================= panel f =======================
pf = P([0, 250], [-1, 13.55], 410, 313,
       make_axis("Irrdiation times (s)", [0, 50, 100, 150, 200, 250], "d"),
       make_axis("Current density (μA cm⁻²)", [0, 2, 4, 6, 8, 10, 12], "d"))
dff = long_common(F_T, [F_BWO, F_BI, F_AU1, F_AU2, F_AU3, F_AU4], NAMES)
f_lines = alt.Chart(dff).mark_line(strokeWidth=2.2, clip=True).encode(
    x=pf.X("x:Q"), y=pf.Y("y:Q"), color=color_enc(NAMES, COLORS, line_legend(226, 2.5, 1089, 0, 6)), order="o:Q")
f_layers = [f_lines] + arrow(pf, 90.6, 7.9, 90.6, 6.95, "black") + arrow(pf, 110.3, 7.9, 110.3, 6.75, "black") + [
    label(pf, 68, 8.8, "Light on"), label(pf, 111, 8.4, "Off")]
chart_f = finish(f_layers, pf, "f", -64)

# ======================= panel g =======================
pg = P([-1.03, 18.05], [-0.5, 6.0], 402, 304,
       make_axis("Z' (Ohm.cm²)", [0, 5, 10, 15], "d"),
       make_axis("Z'' (Ohm.cm²)", [0, 1, 2, 3, 4, 5, 6], "d"))
dfg = long_pairs([G_BWO_X, G_BI_X, G_AU1_X, G_AU2_X, G_AU3_X, G_AU4_X],
                 [G_BWO_Y, G_BI_Y, G_AU1_Y, G_AU2_Y, G_AU3_Y, G_AU4_Y], NAMES)
g_pts = alt.Chart(dfg).mark_circle(size=48, opacity=1, stroke="#00000055", strokeWidth=0.6).encode(
    x=pg.X("x:Q"), y=pg.Y("y:Q"), color=color_enc(NAMES, G_COLORS, dot_legend(236.5, 111.5, 48, 9.5, 5)))
chart_g = finish([g_pts], pg, "g", -61, 8)

# ======================= panel h =======================
ph = P([-0.02, 2.25], [-2, 110], 389, 304,
       make_axis("Times (h)", [0.0, 0.5, 1.0, 1.5, 2.0], ".1f"),
       make_axis("C/C₀ (%)", [0, 20, 40, 60, 80, 100], "d"))
dfh = long_common(H_T, [H_BWO, H_BI, H_AU1, H_AU2, H_AU3, H_AU4], NAMES)
leg_h = line_legend(242, -1.5, 1089, -1, 2)
h_lines = alt.Chart(dfh).mark_line(strokeWidth=2).encode(
    x=ph.X("x:Q"), y=ph.Y("y:Q"), color=color_enc(NAMES, COLORS, leg_h), order="o:Q")
h_pts = alt.Chart(dfh).mark_point(shape="triangle-up", filled=True, size=40, opacity=1).encode(
    x=ph.X("x:Q"), y=ph.Y("y:Q"), color=color_enc(NAMES, COLORS, leg_h))
h_layers = [h_lines, h_pts] + arrow(ph, 1.0, 0.4, 0.37, 8.3, "#e8222c", sw=2.2, size=150) + [label(ph, 0.22, 10.8, "0%")]
chart_h = finish(h_layers, ph, "h", -70, 7)

# ======================= panel i =======================
pi = P([0, 10], [-1, 111.7], 393, 304,
       make_axis("Times (h)", [0, 2, 4, 6, 8, 10], "d"),
       make_axis("C/C₀ (%)", [0, 20, 40, 60, 80, 100], "d"))
dfi = long_pairs([I_T1, I_T2, I_T3, I_T4, I_T5], [I_C1, I_C2, I_C3, I_C4, I_C5], CYCLES)
i_bg = alt.Chart(pd.DataFrame({"x": [pi.xdom[0]], "x1": [pi.xdom[1]], "y": [pi.ydom[0]], "y1": [pi.ydom[1]]})).mark_rect(
    fill=alt.LinearGradient(gradient="linear", x1=0, x2=1, y1=0, y2=0,
                            stops=[alt.GradientStop(color="#ffffff", offset=0.0),
                                   alt.GradientStop(color="#ffffff", offset=0.16),
                                   alt.GradientStop(color="#fdeeec", offset=0.45),
                                   alt.GradientStop(color="#f9d9d4", offset=0.75),
                                   alt.GradientStop(color="#f4c3bb", offset=1.0)])).encode(
    x=pi.X("x:Q"), x2="x1:Q", y=pi.Y("y:Q"), y2="y1:Q")
i_sep = alt.Chart(pd.DataFrame({"x": I_SEP})).mark_rule(color="#c4c4c4", strokeWidth=1.5).encode(x=pi.X("x:Q"))
cyc = alt.Color("s:N", scale=alt.Scale(domain=CYCLES, range=CYCLE_COLORS), legend=None)
i_lines = alt.Chart(dfi).mark_line(strokeWidth=2).encode(x=pi.X("x:Q"), y=pi.Y("y:Q"), color=cyc, order="o:Q")
i_pts = alt.Chart(dfi).mark_square(size=30, opacity=1).encode(x=pi.X("x:Q"), y=pi.Y("y:Q"), color=cyc)
dfi_l = pd.DataFrame({"x": I_LBL_X, "t": I_LBL, "sup": I_SUP, "y": [96.5] * 5, "y1": [99.5] * 5})
i_lbl = alt.Chart(dfi_l).mark_text(fontSize=23, align="center", baseline="alphabetic", font=FONT, color="black").encode(
    x=pi.X("x:Q"), y=pi.Y("y:Q"), text="t:N")
i_sup = alt.Chart(dfi_l).mark_text(fontSize=15, align="left", baseline="alphabetic", font=FONT, color="black", dx=7).encode(
    x=pi.X("x:Q"), y=pi.Y("y1:Q"), text="sup:N")
chart_i = finish([i_bg, i_sep, i_lines, i_pts, i_lbl, i_sup], pi, "i", -61, 10)


# ======================= layout =======================
def spacer(w, h):
    return alt.Chart(pd.DataFrame({"v": [0]})).mark_rect(opacity=0).encode(
        x=alt.value(0), x2=alt.value(w), y=alt.value(0), y2=alt.value(h)).properties(width=w, height=h)


def indep(c):
    return c.resolve_scale(color="independent", stroke="independent", x="independent", y="independent").resolve_legend(
        color="independent", stroke="independent")


def row(items):
    return indep(alt.hconcat(*items, spacing=0, bounds="flush"))


row1 = row([spacer(106, 1), chart_a, spacer(108, 1), chart_b, spacer(118, 1), chart_c])
row2 = row([spacer(78, 1), chart_d, spacer(109, 1), chart_e, spacer(99, 1), chart_f])
row3 = row([spacer(101, 1), chart_g, spacer(109, 1), chart_h, spacer(115, 1), chart_i])

chart = indep(alt.vconcat(spacer(1, 20), row1, spacer(1, 5), row2, spacer(1, 15), row3, spacing=-10, bounds="full"))
chart = chart.properties(padding=0).configure(font=FONT, background="white").configure_view(
    stroke="transparent").configure_axis(
    labelFont=FONT, titleFont=FONT, labelFontSize=20, titleFontSize=23, titleFontWeight="normal",
    labelColor="black", titleColor="black", tickColor="black", tickSize=6, tickWidth=1.5,
    domain=False, grid=False, labelPadding=2, titlePadding=8, labelFlush=False, labelOverlap=False).configure_legend(
    labelFont=FONT, labelColor="black").configure_text(font=FONT)

chart.save("out.html", embed_options={"renderer": "svg", "actions": False})
